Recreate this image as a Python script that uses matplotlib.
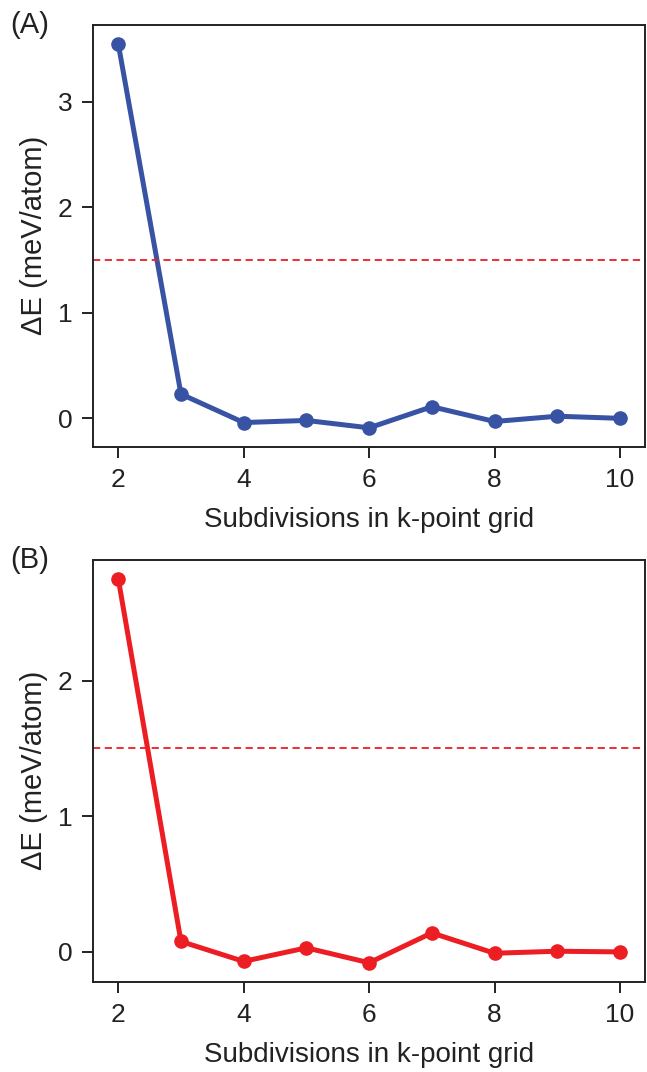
import numpy as np
import matplotlib
matplotlib.use("Agg")
import matplotlib.pyplot as plt

plt.rcParams['font.family'] = ['Liberation Sans', 'DejaVu Sans']

# k-point convergence data
subdivisions = [2, 3, 4, 5, 6, 7, 8, 9, 10]
delta_e_a = [3.55, 0.23, -0.04, -0.02, -0.09, 0.11, -0.03, 0.02, 0.0]
delta_e_b = [2.75, 0.077, -0.07, 0.03, -0.08, 0.14, -0.01, 0.005, 0.0]
threshold = 1.5
panel_labels = ["(A)", "(B)"]

fig = plt.figure(figsize=(6.47, 10.72), dpi=100)
ax_a = fig.add_axes([0.144, 0.583, 0.853, 0.394])
ax_b = fig.add_axes([0.144, 0.084, 0.853, 0.394])

txt = "#222222"
series = [(ax_a, delta_e_a, "#3953a4"), (ax_b, delta_e_b, "#ec1e24")]
for (ax, vals, col), lab in zip(series, panel_labels):
    ax.plot(subdivisions, vals, "-o", color=col, lw=3.6, ms=9.5)
    ax.axhline(threshold, color="#ec1e24", ls="--", lw=1.3, dashes=(4, 2.5))
    ax.set_xticks([2, 4, 6, 8, 10])
    ax.set_xlabel("Subdivisions in k-point grid", fontsize=20, color=txt, labelpad=11)
    ax.set_ylabel("ΔE (meV/atom)", fontsize=21, color=txt, labelpad=7)
    ax.tick_params(labelsize=19, width=1.4, length=8, pad=7, direction="out",
                   labelcolor=txt, color=txt)
    for s in ax.spines.values():
        s.set_linewidth(1.4)
        s.set_color(txt)
    ax.text(-0.15, 1.0, lab, transform=ax.transAxes, fontsize=21,
            ha="left", va="center", color=txt)

ax_a.set_yticks([0, 1, 2, 3])
ax_b.set_yticks([0, 1, 2])

fig.savefig("out.png", dpi=100)
